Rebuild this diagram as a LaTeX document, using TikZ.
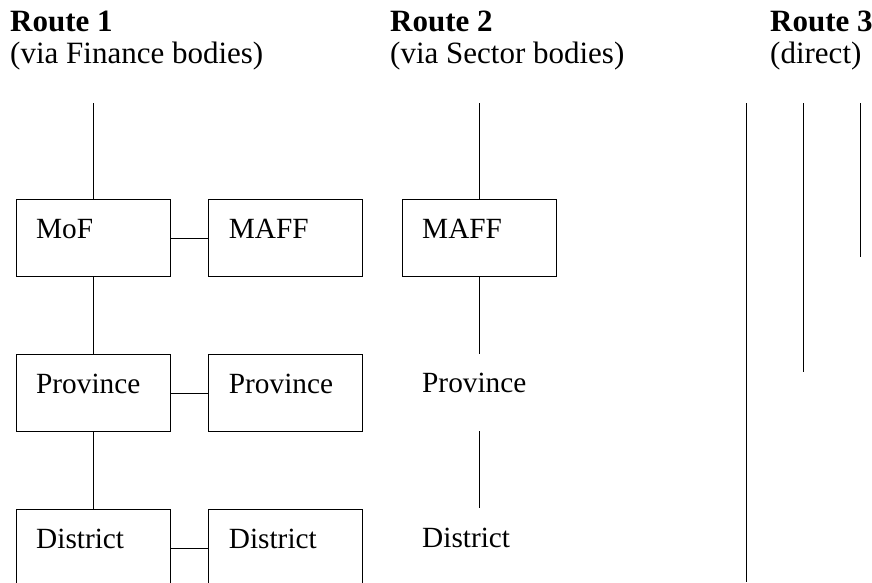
\documentclass[tikz,border=0pt]{standalone}
\usepackage{fontspec}
\setmainfont{Liberation Serif}
\usetikzlibrary{positioning}

\begin{document}
\begin{tikzpicture}[x=1pt, y=-1pt]
\tikzset{route/.style={font=\fontsize{31}{36}\selectfont, anchor=base west, inner sep=0pt}}
\tikzset{body/.style={font=\fontsize{29.3}{35}\selectfont, minimum width=154pt, minimum height=77pt, text width=114pt, inner xsep=20pt, inner ysep=0pt, text height=20pt, text depth=20pt, align=left}}
\tikzset{bodybox/.style={body, draw, line width=1pt}}
\tikzset{link/.style={line width=1pt}}

\useasboundingbox (0,0) rectangle (872,582);

% headings
\node[route] (r1head) at (10,31.7) {\textbf{Route 1}};
\node[route] (r1sub) at (10,63.3) {(via Finance bodies)};
\node[route] (r2head) at (390,31.7) {\textbf{Route 2}};
\node[route] (r2sub) at (390,63.3) {(via Sector bodies)};
\node[route] (r3head) at (770,31.7) {\textbf{Route 3}};
\node[route] (r3sub) at (770,63.3) {(direct)};

% route 1
\node[bodybox, anchor=north west] (mof) at (15.7,199) {MoF};
\node[bodybox, right=37.7pt of mof] (maffa) {MAFF};
\node[bodybox, below=77pt of mof] (provfin) {Province};
\node[bodybox, right=37.7pt of provfin] (provsec) {Province};
\node[bodybox, below=77pt of provfin] (distfin) {District};
\node[bodybox, right=37.7pt of distfin] (distsec) {District};

% route 2
\node[bodybox, right=38.3pt of maffa] (maffb) {MAFF};
\node[body, below=77pt of maffb] (provb) {Province};
\node[body, below=77pt of provb] (distb) {District};

\coordinate (r1top) at (mof.north |- 0,103);
\coordinate (r2top) at (maffb.north |- 0,103);

\draw[link] (r1top) -- (mof.north);
\draw[link] (mof.south) -- (provfin.north);
\draw[link] (provfin.south) -- (distfin.north);
\draw[link] (mof.east) -- (maffa.west);
\draw[link] (provfin.east) -- (provsec.west);
\draw[link] (distfin.east) -- (distsec.west);

\draw[link] (r2top) -- (maffb.north);
\draw[link] (maffb.south) -- (provb.north);
\draw[link] (provb.south) -- (distb.north);

% route 3
\coordinate (d1top) at (746,103);
\coordinate (d1end) at (746,582);
\coordinate (d2top) at (803,103);
\coordinate (d2end) at (803,372);
\coordinate (d3top) at (860.5,103);
\coordinate (d3end) at (860.5,257);
\draw[link] (d1top) -- (d1end);
\draw[link] (d2top) -- (d2end);
\draw[link] (d3top) -- (d3end);

\end{tikzpicture}
\end{document}
